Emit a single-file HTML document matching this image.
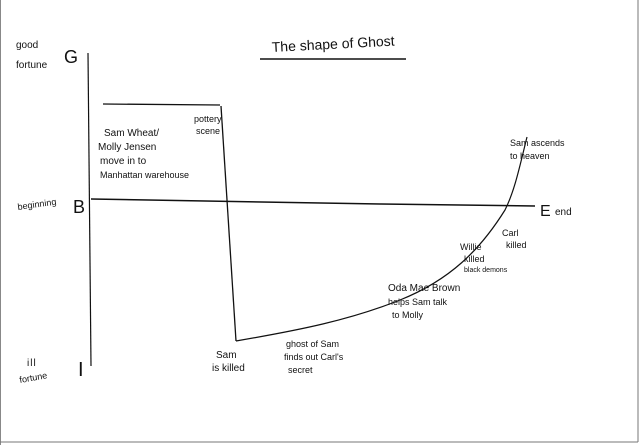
<!DOCTYPE html>
<html><head><meta charset="utf-8"><style>
html,body{margin:0;padding:0;background:#fff;}
svg{display:block}
text{font-family:"Comic Sans MS","Liberation Sans",sans-serif;fill:#111;font-variant-ligatures:none;}
</style></head><body>
<svg width="642" height="445" viewBox="0 0 642 445" xmlns="http://www.w3.org/2000/svg">
<rect x="0" y="0" width="642" height="445" fill="#fff"/>
<line x1="0.5" y1="0" x2="0.5" y2="445" stroke="#888" stroke-width="1"/>
<line x1="638" y1="0" x2="638" y2="442" stroke="#777" stroke-width="1"/>
<line x1="0" y1="442" x2="638" y2="442" stroke="#777" stroke-width="1"/>
<text x="272" y="52" font-size="14" transform="rotate(-3 272 52)">The shape of Ghost</text>
<line x1="260" y1="59" x2="406" y2="59" stroke="#111" stroke-width="1.5"/>
<line x1="88" y1="53" x2="91" y2="366" stroke="#111" stroke-width="1.2"/>
<text x="64" y="63" font-size="18">G</text>
<text x="16" y="48" font-size="10">good</text>
<text x="16" y="68" font-size="10">fortune</text>
<text x="73" y="213" font-size="18">B</text>
<text x="18" y="210" font-size="9" transform="rotate(-8 18 210)">beginning</text>
<text x="78" y="376" font-size="20">I</text>
<text x="27" y="366" font-size="10" letter-spacing="1">ill</text>
<text x="20" y="383" font-size="9" transform="rotate(-10 20 383)">fortune</text>
<polyline points="91,199 380,204 535,206" fill="none" stroke="#111" stroke-width="1.5"/>
<text x="540" y="216" font-size="16">E</text>
<text x="555" y="215" font-size="10">end</text>
<line x1="103" y1="104" x2="220" y2="105" stroke="#111" stroke-width="1.3"/>
<line x1="221" y1="106" x2="236" y2="341" stroke="#111" stroke-width="1.3"/>
<path d="M236,341 C300,330 350,320 400,300 C450,280 480,250 505,210 C515,190 520,165 527,137" fill="none" stroke="#111" stroke-width="1.2"/>
<text x="104" y="136" font-size="10">Sam Wheat/</text>
<text x="98" y="150" font-size="10">Molly Jensen</text>
<text x="100" y="164" font-size="10">move in to</text>
<text x="100" y="178" font-size="9">Manhattan warehouse</text>
<text x="194" y="122" font-size="9">pottery</text>
<text x="196" y="134" font-size="9">scene</text>
<text x="510" y="146" font-size="9">Sam ascends</text>
<text x="510" y="159" font-size="9">to heaven</text>
<text x="502" y="236" font-size="9">Carl</text>
<text x="506" y="248" font-size="9">killed</text>
<text x="460" y="250" font-size="9">Willie</text>
<text x="464" y="262" font-size="9">killed</text>
<text x="464" y="272" font-size="7">black demons</text>
<text x="388" y="291" font-size="10">Oda Mae Brown</text>
<text x="388" y="305" font-size="9">helps Sam talk</text>
<text x="392" y="318" font-size="9">to Molly</text>
<text x="216" y="358" font-size="10">Sam</text>
<text x="212" y="371" font-size="10">is killed</text>
<text x="286" y="347" font-size="9">ghost of Sam</text>
<text x="284" y="360" font-size="9">finds out Carl's</text>
<text x="288" y="373" font-size="9">secret</text>
</svg>
</body></html>
